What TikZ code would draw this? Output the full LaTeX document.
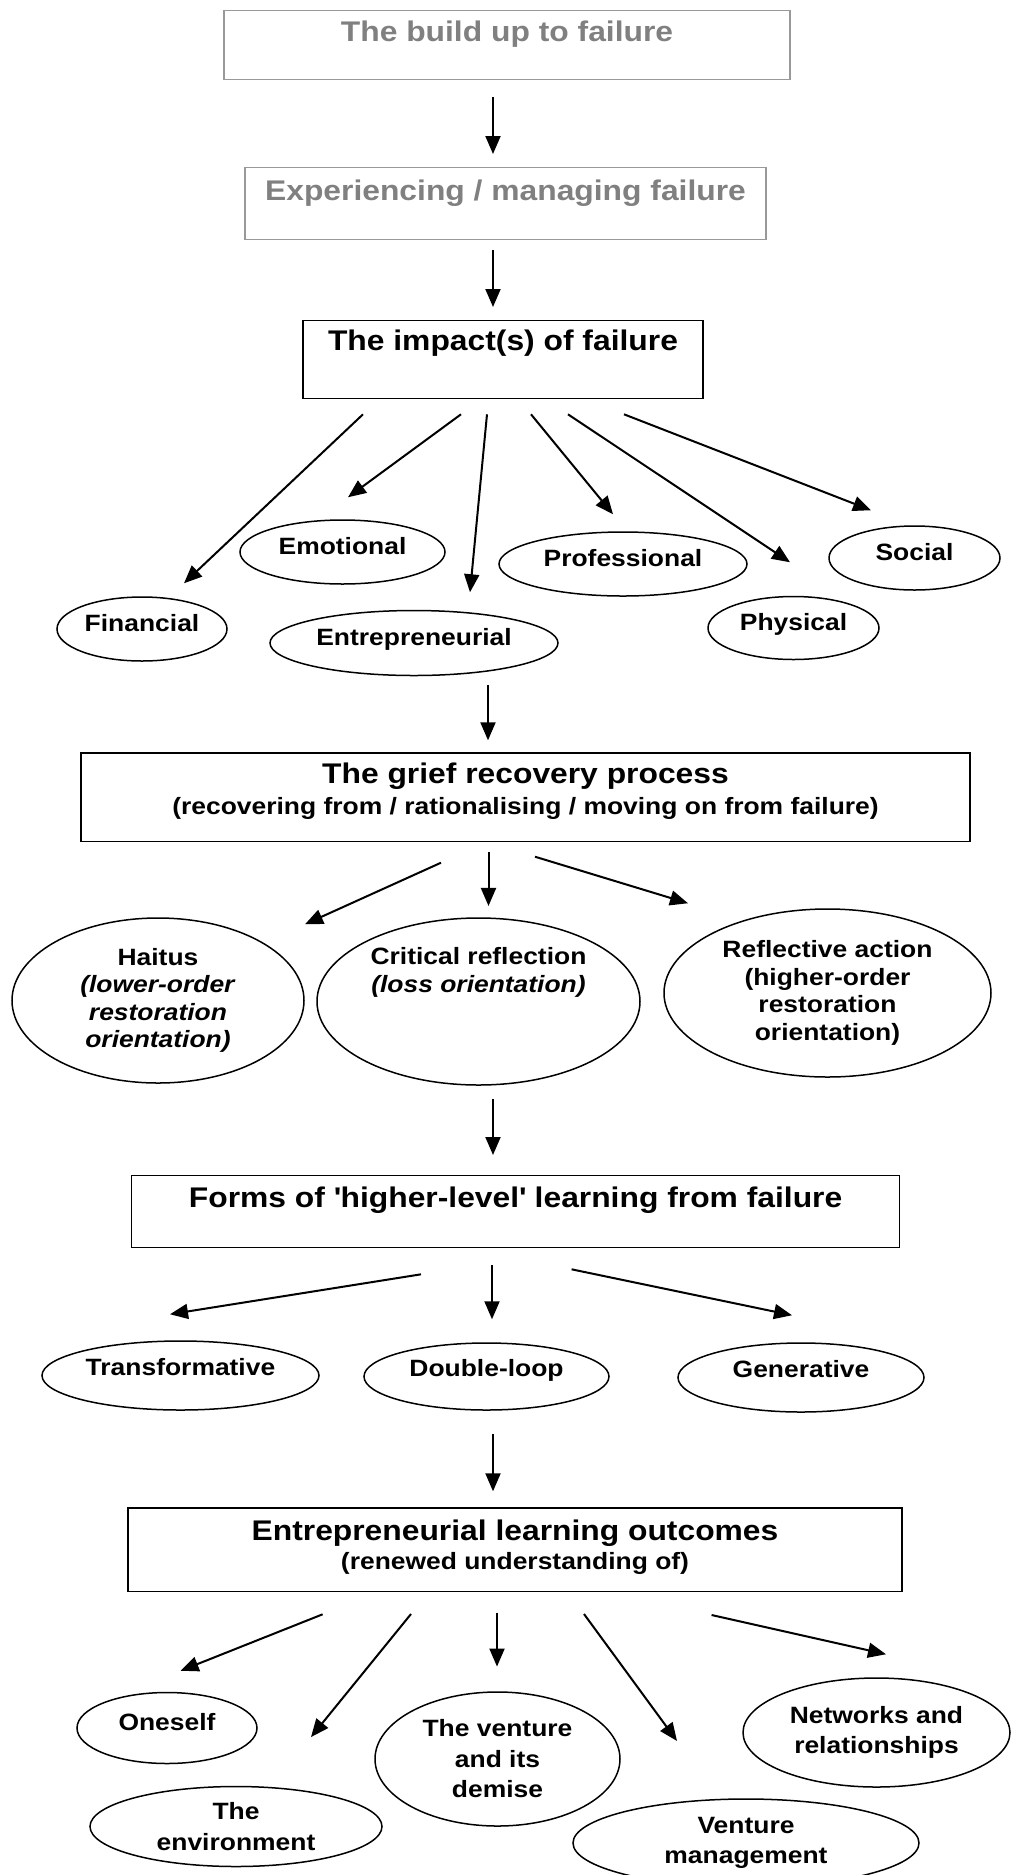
\documentclass[tikz,border=0pt]{standalone}
\usepackage{fontspec}
\setmainfont{Liberation Sans}[FakeStretch=1.12]
\usetikzlibrary{shapes.geometric, arrows.meta}
\newcommand\titlefont{\fontsize{28.4}{31.7}\selectfont\bfseries}
\newcommand\ovalfont{\fontsize{23.6}{27.5}\selectfont\bfseries}
\newcommand\loosefont{\fontsize{23.6}{30.5}\selectfont\bfseries}
\tikzset{
  stage/.style={rectangle, draw=black, line width=1.3pt, inner xsep=0pt, inner ysep=0pt,
                align=center, font=\titlefont},
  faded/.style={stage, draw=black!40, text=black!50},
  oval/.style={ellipse, draw=black, line width=1.5pt, inner sep=0pt, align=center, font=\ovalfont},
  tag/.style={oval, text height=18pt, text depth=14pt},
  arrow/.style={-{Triangle[length=18pt,width=15pt]}, line width=2pt},
}
\begin{document}
\begin{tikzpicture}[x=1pt, y=-1pt]
  \useasboundingbox (0,0) rectangle (1011,1875);

  % Stages
  \node[faded, anchor=north, minimum width=566pt, text height=30.7pt, text depth=38.3pt] (build) at (507,10) {The build up to failure};
  \node[faded, anchor=north, minimum width=521pt, text height=33pt, text depth=38.5pt] (exp) at (505.5,167) {Experiencing / managing failure};
  \node[stage, anchor=north, minimum width=400pt, text height=30pt, text depth=48pt] (impact) at (503,320) {The impact(s) of failure};
  \node[stage, anchor=north, minimum width=889pt, text height=62pt, text depth=26.4pt] (grief) at (525.5,752.3)
    {The grief recovery process\\{\ovalfont (recovering from / rationalising / moving on from failure)}};
  \node[stage, anchor=north, minimum width=768pt, text height=31.7pt, text depth=40.3pt] (learn) at (515.6,1175) {Forms of \textquotesingle higher-level\textquotesingle{} learning from failure};
  \node[stage, anchor=north, minimum width=774pt, text height=62pt, text depth=21.4pt] (outcomes) at (515,1507.3)
    {Entrepreneurial learning outcomes\\[-2.4pt]{\ovalfont (renewed understanding of)}};

  % Impacts
  \node[tag, minimum width=170pt, minimum height=64pt] (financial) at (142,629) {Financial};
  \node[tag, minimum width=205pt, minimum height=64pt] (emotional) at (342.5,552) {Emotional};
  \node[tag, minimum width=288pt, minimum height=65pt] (entre) at (414,643) {Entrepreneurial};
  \node[tag, minimum width=248pt, minimum height=64pt] (professional) at (623,564) {Professional};
  \node[tag, minimum width=171pt, minimum height=63pt] (physical) at (793.5,628) {Physical};
  \node[tag, minimum width=171pt, minimum height=64pt] (social) at (914.5,558) {Social};

  % Recovery
  \node[oval, minimum width=292pt, minimum height=165pt] (haitus) at (158,1000.5)
    {Haitus\\\textit{(lower-order}\\\textit{restoration}\\\textit{orientation)}};
  \node[oval, minimum width=323pt, minimum height=167pt] (critical) at (478.5,1001.5)
    {Critical reflection\\\textit{(loss orientation)}\\\strut\\\strut};
  \node[oval, minimum width=327pt, minimum height=168pt] (reflective) at (827.5,993)
    {Reflective action\\(higher-order\\restoration\\orientation)};

  % Learning
  \node[tag, text depth=18pt, minimum width=277pt, minimum height=69pt] (transform) at (180.5,1375.5) {Transformative};
  \node[tag, text depth=18pt, minimum width=245pt, minimum height=67pt] (double) at (486.5,1376.5) {Double-loop};
  \node[tag, text depth=18pt, minimum width=246pt, minimum height=69pt] (generative) at (801,1377.5) {Generative};

  % Outcomes
  \node[tag, minimum width=180pt, minimum height=71pt] (oneself) at (167,1728) {Oneself};
  \node[oval, font=\loosefont, minimum width=292pt, minimum height=80pt] (environment) at (236,1826.5) {The\\environment};
  \node[oval, font=\loosefont, minimum width=245pt, minimum height=134pt] (venture) at (497.5,1759) {The venture\\and its\\demise};
  \node[oval, font=\loosefont, minimum width=346pt, minimum height=88pt] (vmgmt) at (746,1843) {Venture\\management};
  \node[oval, font=\loosefont, minimum width=267pt, minimum height=109pt] (networks) at (876.5,1732.5) {Networks and\\relationships};

  % Main flow arrows
  \draw[arrow] ([shift={(-14,17)}]build.south) -- ([shift={(-12.5,-13)}]exp.north);
  \draw[arrow] ([shift={(-12.5,10.5)}]exp.south) -- ([shift={(-10,-13)}]impact.north);
  \draw[arrow] ([shift={(74,8.5)}]entre.south) -- ([shift={(-37.5,-12)}]grief.north);
  \draw[arrow] ([shift={(14.5,13)}]critical.south) -- ([shift={(-22.6,-20)}]learn.north);
  \draw[arrow] ([shift={(6.5,23)}]double.south) -- ([shift={(-22,-16)}]outcomes.north);

  % Impact arrows
  \draw[arrow] ([shift={(-140,15)}]impact.south) -- ([shift={(42,-13)}]financial.north);
  \draw[arrow] ([shift={(-42,15)}]impact.south) -- ([shift={(5.5,-22)}]emotional.north);
  \draw[arrow] ([shift={(-16,15)}]impact.south) -- ([shift={(56,-17.5)}]entre.north);
  \draw[arrow] ([shift={(28,15)}]impact.south) -- ([shift={(-10,-17)}]professional.north);
  \draw[arrow] ([shift={(65,15)}]impact.south) -- ([shift={(-3.5,-33.5)}]physical.north);
  \draw[arrow] ([shift={(121,15)}]impact.south) -- ([shift={(-43.5,-15)}]social.north);

  % Recovery arrows
  \draw[arrow] ([shift={(-84.5,20.7)}]grief.south) -- ([shift={(147,7)}]haitus.north);
  \draw[arrow] ([shift={(-37,10)}]grief.south) -- ([shift={(10,-11.3)}]critical.north);
  \draw[arrow] ([shift={(9.5,14.7)}]grief.south) -- ([shift={(-139.5,-5)}]reflective.north);

  % Learning arrows
  \draw[arrow] ([shift={(-94.6,26)}]learn.south) -- ([shift={(-10.5,-26)}]transform.north);
  \draw[arrow] ([shift={(-23.6,17)}]learn.south) -- ([shift={(5.5,-23)}]double.north);
  \draw[arrow] ([shift={(56,21)}]learn.south) -- ([shift={(-9,-27)}]generative.north);

  % Outcome arrows
  \draw[arrow] ([shift={(-192.4,22.3)}]outcomes.south) -- ([shift={(13.6,-21)}]oneself.north);
  \draw[arrow] ([shift={(-104,22)}]outcomes.south) -- ([shift={(75,-48.7)}]environment.north);
  \draw[arrow] ([shift={(-18,20.7)}]outcomes.south) -- ([shift={(-0.5,-24.7)}]venture.north);
  \draw[arrow] ([shift={(69,22)}]outcomes.south) -- ([shift={(-69,-57.3)}]vmgmt.north);
  \draw[arrow] ([shift={(196.6,23)}]outcomes.south) -- ([shift={(9.5,-23)}]networks.north);

\end{tikzpicture}
\end{document}
